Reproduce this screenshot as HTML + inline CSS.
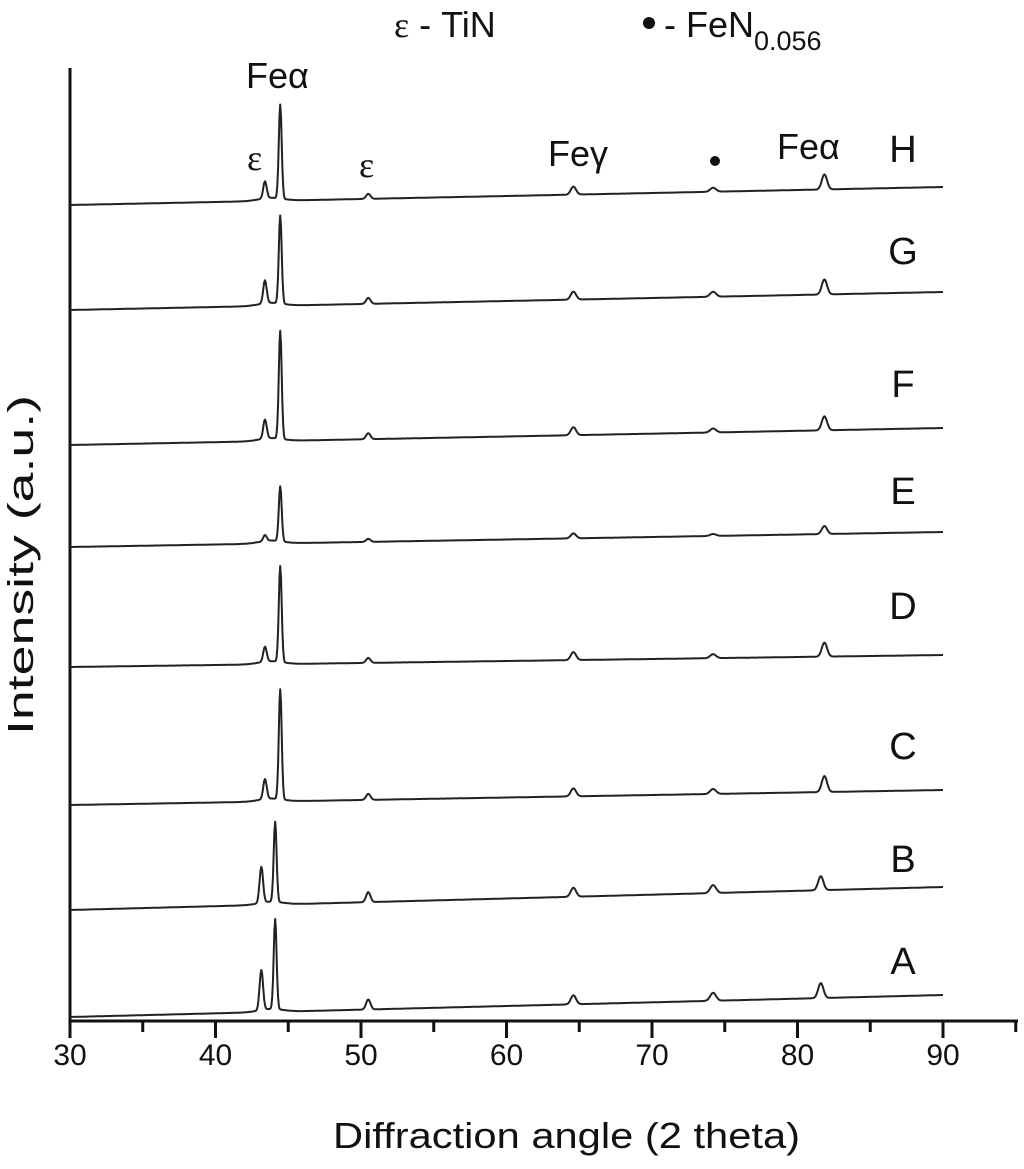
<!DOCTYPE html>
<html><head><meta charset="utf-8">
<style>
html,body{margin:0;padding:0;background:#fff;}
svg{display:block;font-family:"Liberation Sans",sans-serif;}
</style></head>
<body>
<svg id="chart" width="1024" height="1169" viewBox="0 0 1024 1169" xmlns="http://www.w3.org/2000/svg">
<g id="axes"></g>
<g id="traces"></g>
<g fill="#111" font-size="36">
<text x="394" y="37" font-family="'Liberation Serif',serif">ε<tspan font-family="'Liberation Sans',sans-serif"> - TiN</tspan></text>
<circle cx="649" cy="23" r="6"/>
<text x="664" y="37">- FeN<tspan font-size="27" dy="13">0.056</tspan></text>
<text x="246" y="88">Feα</text>
<text x="247" y="170" font-family="'Liberation Serif',serif">ε</text>
<text x="359" y="177" font-family="'Liberation Serif',serif">ε</text>
<text x="548" y="166">Feγ</text>
<circle cx="715" cy="161" r="5"/>
<text x="777" y="159">Feα</text>
</g>
<g id="letters" fill="#111" font-size="38"></g>
<text x="333" y="1148" font-size="36" textLength="467" lengthAdjust="spacingAndGlyphs" fill="#111">Diffraction angle (2 theta)</text>
<text transform="translate(33,735) rotate(-90)" font-size="36" textLength="340" lengthAdjust="spacingAndGlyphs" fill="#111">Intensity (a.u.)</text>
</svg>
<script>
const samples = ['A','B','C','D','E','F','G','H'];
const baseStart = [1017,910,805,667,547,445,310,205]; // px at 30°
const baseEnd = [995,887,790,655,532,428,292,187];     // px at 90°
const epsPos = [43.15,43.15,43.4,43.4,43.4,43.4,43.4,43.4];
const epsH = [40,36,20,15,6,19,23,17];
const feaPos = [44.1,44.1,44.45,44.45,44.45,44.45,44.45,44.45];
const feaH = [90,80,110,96,55,108,88,94];
const eps2H = [10,10,6,5,3,6,6,5];
const fegH = [9,9,8,8,5,8,8,8];
const fenH = [8,8,5,4,2,4,5,4];
const fea2H = [15,14,16,14,8,14,15,15];
const fea2Pos = [81.6,81.6,81.85,81.85,81.85,81.85,81.85,81.85];
const labelY = [960,858,745,605,490,383,250,148];
const xTicks = [30,40,50,60,70,80,90];
const NS='http://www.w3.org/2000/svg';
const X0=70, X1=943;
function xs(v){return X0+(v-30)*(X1-X0)/60;}
const axes=document.getElementById('axes');
function mk(t,attrs,parent){const e=document.createElementNS(NS,t);for(const k in attrs)e.setAttribute(k,attrs[k]);parent.appendChild(e);return e;}
const ya=mk('line',{x1:70,y1:68,x2:70,y2:1022,stroke:'#111','stroke-width':3},axes);


const xa=mk('line',{x1:69,y1:1021,x2:1018,y2:1021,stroke:'#111','stroke-width':3},axes);


for(let v=30;v<=95;v+=5){
  const major=v%10===0;
  const t=mk('line',{x1:xs(v),y1:1021,x2:xs(v),y2:major?1038:1032,stroke:'#111','stroke-width':3},axes);
  
  
}
xTicks.forEach(v=>{
  const t=mk('text',{x:xs(v),y:1065,'font-size':30,'text-anchor':'middle',fill:'#111'},axes);
  t.textContent=v;
  
  
});
const tr=document.getElementById('traces');
function g(x,c,s){return Math.exp(-0.5*((x-c)/s)**2);}
samples.forEach((s,i)=>{
  let d='';
  for(let x=30;x<=90.001;x+=0.05){
    const base=baseStart[i]+(baseEnd[i]-baseStart[i])*(x-30)/60;
    let bump=3*g(x,43.8,0.8);
    let h=epsH[i]*g(x,epsPos[i],0.12)+feaH[i]*g(x,feaPos[i],0.1)+eps2H[i]*g(x,50.5,0.15)
      +fegH[i]*g(x,64.6,0.18)+fenH[i]*g(x,74.2,0.2)+fea2H[i]*g(x,fea2Pos[i],0.18)+bump;
    d+=(d?'L':'M')+xs(x).toFixed(1)+' '+(base-h).toFixed(1);
  }
  const p=mk('path',{d:d,fill:'none',stroke:'#222','stroke-width':2,'stroke-linejoin':'round'},tr);
  
  
  const l=mk('text',{x:903,y:labelY[i]+14,'text-anchor':'middle'},document.getElementById('letters'));
  l.textContent=s;
  
  
});
</script>
</body></html>
